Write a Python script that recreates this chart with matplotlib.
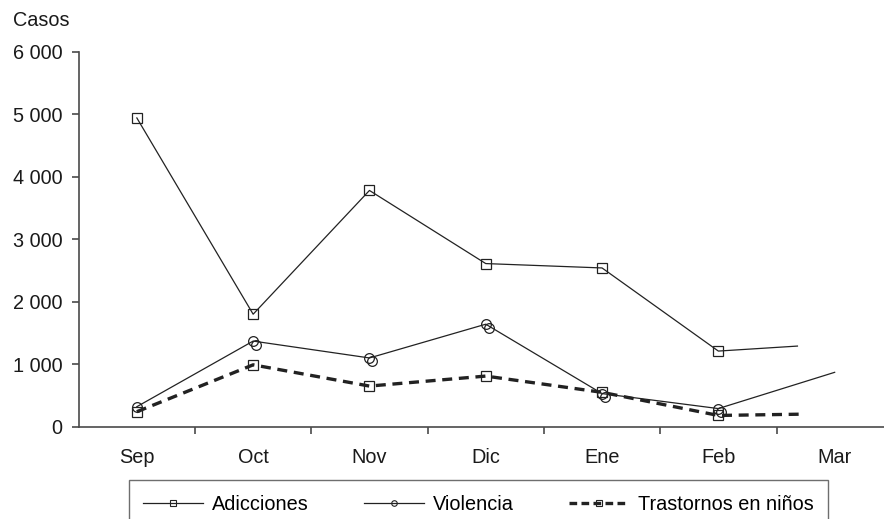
import matplotlib.pyplot as plt
from matplotlib.lines import Line2D
from matplotlib.transforms import offset_copy

plt.rcParams['font.family'] = ['Liberation Sans', 'DejaVu Sans']

# months and case counts (the last value of each series is a partial month, drawn without marker)
months = ['Sep', 'Oct', 'Nov', 'Dic', 'Ene', 'Feb', 'Mar']
adicciones = [4940, 1800, 3780, 2610, 2540, 1210, 1290]
violencia = [320, 1370, 1100, 1640, 530, 290, 870]
trastornos = [240, 990, 650, 810, 550, 180, 200]
# x position of the trailing (partial) point of each series
tail_adicciones = 5.68
tail_violencia = 6.0
tail_trastornos = 5.70

ink = '#222222'
axis_col = '#4a4a4a'

fig = plt.figure(figsize=(8.84, 5.19), dpi=100)
ax = fig.add_axes([78.7 / 884, 92.3 / 519, (884 - 78.7) / 884, 375 / 519])

x = list(range(6))

# Adicciones
ax.plot(x + [tail_adicciones], adicciones, color=ink, lw=0.9,
        marker='s', ms=7, mfc='none', mec=ink, mew=0.9, markevery=list(range(6)))

# Violencia (markers printed twice, slightly offset, as in the original)
ax.plot(x + [tail_violencia], violencia, color=ink, lw=0.9,
        marker='o', ms=7, mfc='none', mec=ink, mew=0.9, markevery=list(range(6)))
shifted = offset_copy(ax.transData, fig=fig, x=3, y=-3.5, units='dots')
ax.plot(x[1:], violencia[1:6], ls='none', marker='o', ms=7, mfc='none',
        mec=ink, mew=0.9, transform=shifted)

# Trastornos en niños
ax.plot(x + [tail_trastornos], trastornos, color=ink, lw=2.4, ls=(0, (3, 2)),
        marker='s', ms=7, mfc='none', mec=ink, mew=0.9, markevery=list(range(6)))

ax.set_xlim(-0.5, -0.5 + (884 - 78.7) / 116.3)
ax.set_ylim(0, 6000)

ax.spines['top'].set_visible(False)
ax.spines['right'].set_visible(False)
for s in ('left', 'bottom'):
    ax.spines[s].set_color(axis_col)
    ax.spines[s].set_linewidth(1.2)

ax.set_yticks([0, 1000, 2000, 3000, 4000, 5000, 6000])
ax.set_yticklabels(['0', '1 000', '2 000', '3 000', '4 000', '5 000', '6 000'])
ax.tick_params(axis='y', direction='out', length=4.8, width=1.2, color=axis_col,
               pad=7.0, labelsize=14.3, labelcolor='#1a1a1a')

ax.set_xticks(range(len(months)))
ax.set_xticklabels(months)
ax.set_xticks([i + 0.5 for i in range(6)], minor=True)
ax.tick_params(axis='x', which='major', length=0, pad=15, labelsize=14.3, labelcolor='#1a1a1a')
ax.tick_params(axis='x', which='minor', direction='out', length=4.8, width=1.2, color=axis_col)

fig.text(12.7 / 884, 1 - 21 / 519, 'Casos', fontsize=14.3, va='center', ha='left', color='#1a1a1a')

handles = [
    Line2D([], [], color=ink, lw=0.9, marker='s', ms=4, mfc='none', mec=ink, mew=0.8),
    Line2D([], [], color=ink, lw=0.9, marker='o', ms=4, mfc='none', mec=ink, mew=0.8),
    Line2D([], [], color=ink, lw=2.4, ls=(0, (2.3, 1.3)), marker='s', ms=4, mfc='none', mec=ink, mew=0.8),
]
leg = fig.legend(handles, ['Adicciones', 'Violencia', 'Trastornos en niños'],
                 loc='upper left', bbox_to_anchor=(128.5 / 884, 1 - 480 / 519),
                 ncol=3, fontsize=14.3, frameon=True, fancybox=False, shadow=False,
                 handlelength=3.0, handletextpad=0.45, columnspacing=2.8,
                 borderpad=0.75, borderaxespad=0)
leg.get_frame().set_edgecolor(axis_col)
leg.get_frame().set_linewidth(1.0)

fig.savefig('out.png', dpi=100)
